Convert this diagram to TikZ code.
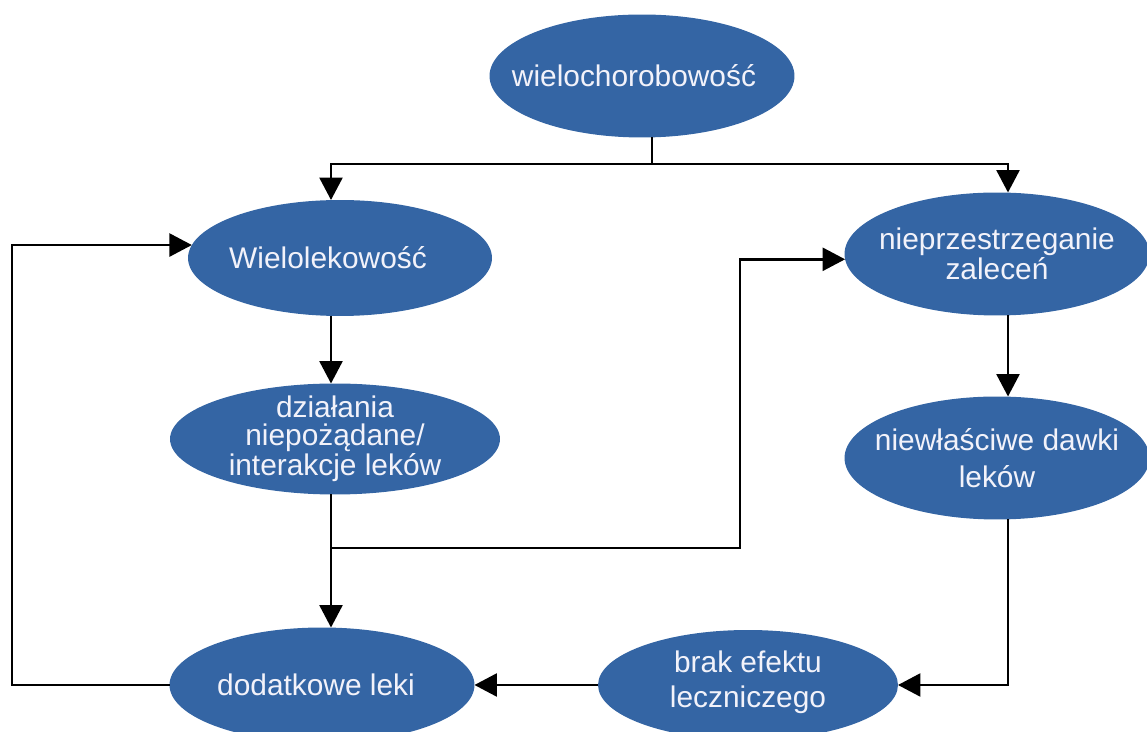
\documentclass[tikz,border=0pt]{standalone}
\usepackage{fontspec}
\setmainfont{Liberation Sans}
\usetikzlibrary{arrows.meta,shapes.geometric}
\definecolor{ellcolor}{RGB}{52,101,164}
\definecolor{elltextcolor}{RGB}{242,242,250}
\colorlet{linecolor}{black}
\tikzset{ellbase/.style={shape=ellipse, inner sep=0pt, outer sep=0pt, fill=ellcolor},%
    ellnode/.style 2 args={ellbase, minimum width=#1cm, minimum height=#2cm},%
    elltext/.style={text=elltextcolor, align=center, inner sep=0pt, font=\fontsize{17}{16}\selectfont},%
    line/.style={line width=1.5pt, color=linecolor},%
    conn/.style={line, -{Triangle[length=0.45cm,width=0.46cm]}}%
}
\begin{document}
\begin{tikzpicture}[x=0.02cm, y=-0.02cm]
            \useasboundingbox (0,0) rectangle (1147,732);
            \begin{scope} %draw ellipses
                \foreach \nodename/\ewidth/\eheight/\xpos/\ypos in {%
                        wielochor/6.1/2.46/642/76,
                        wielolek/6.08/2.32/340/258,
                        dzialania/6.6/2.22/335/439,
                        nieprzestrz/6.1/2.46/997/254,
                        niewlasc/6.1/2.46/997/458,
                        dodatk/6.1/2.3/322/685,
                        brak/6.0/2.2/748/685
                    } \node[ellnode={\ewidth}{\eheight}] (\nodename) at (\xpos, \ypos) {};
            \end{scope}
            \begin{scope} %add texts
                \node[elltext] (wielochortext) at ([xshift=-0.16cm]wielochor) {wielochorobowość};
                \node[elltext] (wielolektext) at ([xshift=-0.24cm]wielolek) {Wielolekowość};
                \node[elltext] (dzialaniatext) at (dzialania) {działania\\niepożądane/\\interakcje leków};
                \node[elltext] (nieprzestrztext) at (nieprzestrz) {nieprzestrzeganie\\zaleceń};
                \node[elltext] (niewlasctext) at (niewlasc) {niewłaściwe dawki\\[5pt]leków};
                \node[elltext] (dodatktext) at ([xshift=-0.12cm]dodatk) {dodatkowe leki};
                \node[elltext] (braktext) at ([yshift=0.06cm]brak) {brak efektu\\[4pt]leczniczego};
            \end{scope}
            \begin{scope} %draw connections
                \coordinate (split) at (652,164);
                \coordinate (lcol) at (331,0);
                \coordinate (rcol) at (1008,0);
                \coordinate (lback) at (12,0);
                \coordinate (bend) at (740,0);
                \coordinate (branch) at (331,548);
                \draw[line] (wielochor.south -| split) -- (split);
                \draw[conn] (split) -| (lcol |- wielolek.north);
                \draw[conn] (split) -| (rcol |- nieprzestrz.north);
                \draw[conn] (lcol |- wielolek.south) -- (lcol |- dzialania.north);
                \draw[conn] (lcol |- dzialania.south) -- (lcol |- dodatk.north);
                \draw[conn] (branch) -| (bend |- nieprzestrz.182) -- (nieprzestrz.182);
                \draw[conn] (rcol |- nieprzestrz.south) -- (rcol |- niewlasc.north);
                \draw[conn] (rcol |- niewlasc.south) |- (brak.east);
                \draw[conn] (brak.west) -- (dodatk.east);
                \draw[conn] (dodatk.west) -| (lback |- wielolek.175) -- (wielolek.175);
            \end{scope}
        \end{tikzpicture}
\end{document}
